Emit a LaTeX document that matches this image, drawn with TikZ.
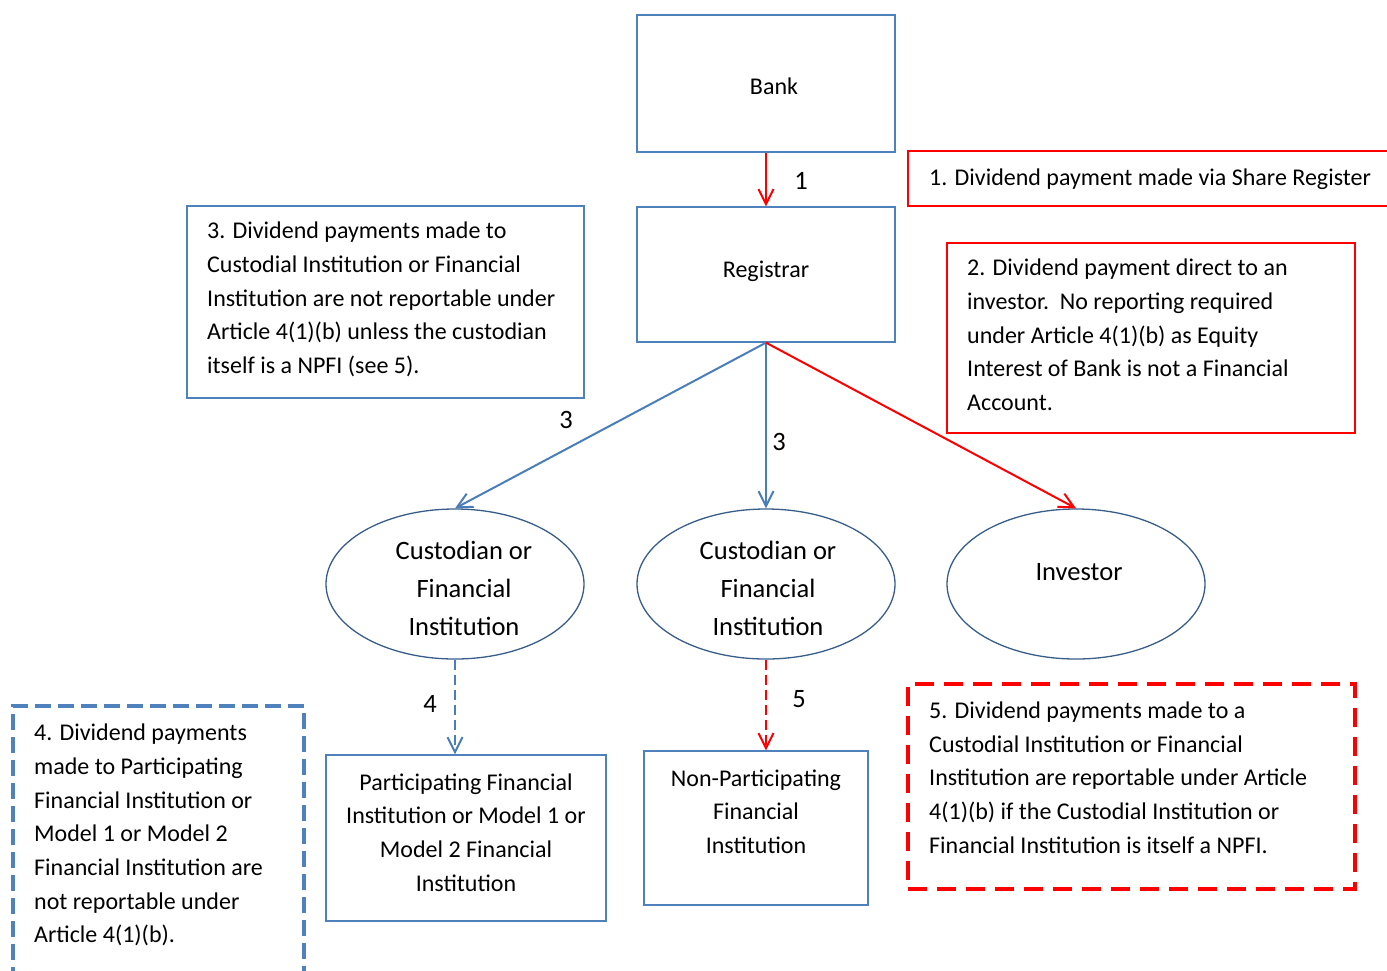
\documentclass[tikz,border=0pt]{standalone}
\usepackage{fontspec}
\setmainfont{Carlito}
\usetikzlibrary{shapes.geometric,arrows.meta}
\definecolor{boxblue}{HTML}{4F81BD}
\definecolor{edgeblue}{HTML}{385D8A}
\definecolor{arrowblue}{HTML}{4A7EBB}
\definecolor{pured}{HTML}{FF0000}
\tikzset{
  bluebox/.style={draw=boxblue, line width=1.3pt, inner sep=0pt},
  redbox/.style={draw=pured, line width=2pt, inner sep=0pt},
  bluedashbox/.style={draw=boxblue, line width=3.5pt, dash pattern=on 16pt off 7pt, inner sep=0pt},
  reddashbox/.style={draw=pured, line width=4pt, dash pattern=on 19pt off 10pt, inner sep=0pt},
  oval/.style={ellipse, draw=edgeblue, line width=1.3pt, minimum width=258pt, minimum height=150pt, inner sep=0pt},
  body/.style={inner sep=0pt, font=\fontsize{24}{33.7}\selectfont},
  bigtxt/.style={inner sep=0pt, font=\fontsize{26.5}{38}\selectfont},
  barb/.style={-{Straight Barb[length=15pt,width=15pt]}},
  bluearrow/.style={barb, draw=arrowblue, line width=2pt},
  redarrow/.style={barb, draw=pured, line width=2pt},
}
\begin{document}
\begin{tikzpicture}[x=1pt,y=-1pt]
\useasboundingbox (0,0) rectangle (1387,970);
\clip (0,0) rectangle (1387,970);

% boxes
\node[bluebox, minimum width=258pt, minimum height=137pt] (bank) at (766,83.5) {};
\node[bluebox, minimum width=258pt, minimum height=135pt] (reg) at (766,274.5) {};
\node[redbox, minimum width=492pt, minimum height=55pt] (n1box) at (1154,178.5) {};
\node[bluebox, minimum width=397pt, minimum height=192pt] (n3box) at (385.5,302) {};
\node[redbox, minimum width=408pt, minimum height=190pt] (n2box) at (1151,338) {};
\node[oval] (e1) at (455,584) {};
\node[oval] (e2) at (766,584) {};
\node[oval] (e3) at (1076,584) {};
\node[bluebox, minimum width=280pt, minimum height=166pt] (pfi) at (466,838) {};
\node[bluebox, minimum width=224pt, minimum height=154pt] (npfi) at (756,828) {};
\node[bluedashbox, minimum width=291pt, minimum height=284pt] (n4box) at (158.5,848) {};
\node[reddashbox, minimum width=447pt, minimum height=205pt] (n5box) at (1131.5,786.5) {};

% texts
\node[body, anchor=base] (banktxt) at (774,94) {Bank};
\node[body, anchor=base] (regtxt) at (766,277) {Registrar};
\node[body, anchor=base west] (t1) at (929,185) {1. Dividend payment made via Share Register};
\node[body, anchor=north west, align=left] (t3) at (207,238.5-23.6) {\strut 3. Dividend payments made to\\Custodial Institution or Financial\\Institution are not reportable under\\Article 4(1)(b) unless the custodian\\itself is a NPFI (see 5).};
\node[body, anchor=north west, align=left] (t2) at (967,275.7-23.6) {\strut 2. Dividend payment direct to an\\investor.\ \ No reporting required\\under Article 4(1)(b) as Equity\\Interest of Bank is not a Financial\\Account.};
\node[bigtxt, anchor=north, align=center] (e1txt) at (464,559-26.6) {\strut Custodian or\\Financial\\Institution};
\node[bigtxt, anchor=north, align=center] (e2txt) at (768,559-26.6) {\strut Custodian or\\Financial\\Institution};
\node[bigtxt, anchor=base] (e3txt) at (1079,580) {Investor};
\node[body, anchor=north, align=center] (pfitxt) at (466,790-23.6) {\strut Participating Financial\\Institution or Model 1 or\\Model 2 Financial\\Institution};
\node[body, anchor=north, align=center] (npfitxt) at (756,786-23.6) {\strut Non-Participating\\Financial\\Institution};
\node[body, anchor=north west, align=left] (t4) at (34,740.5-23.6) {\strut 4. Dividend payments\\made to Participating\\Financial Institution or\\Model 1 or Model 2\\Financial Institution are\\not reportable under\\Article 4(1)(b).};
\node[body, anchor=north west, align=left] (t5) at (929,718.3-23.6) {\strut 5. Dividend payments made to a\\Custodial Institution or Financial\\Institution are reportable under Article\\4(1)(b) if the Custodial Institution or\\Financial Institution is itself a NPFI.};

% connectors
\draw[redarrow] (bank.south) -- (reg.north);
\draw[bluearrow] (reg.south) -- (e1.north);
\draw[bluearrow] (reg.south) -- (e2.north);
\draw[redarrow] (reg.south) -- (e3.north);
\draw[bluearrow, dash pattern=on 10pt off 5pt] (e1.south) -- (e1.south |- pfi.north);
\draw[redarrow, dash pattern=on 10pt off 5pt] (e2.south) -- (e2.south |- npfi.north);

% connector labels
\node[bigtxt] (l1) at (801,181) {1};
\node[bigtxt] (l3a) at (566,420) {3};
\node[bigtxt] (l3b) at (779,442) {3};
\node[bigtxt] (l4) at (430,704) {4};
\node[bigtxt] (l5) at (799,699) {5};
\end{tikzpicture}
\end{document}
